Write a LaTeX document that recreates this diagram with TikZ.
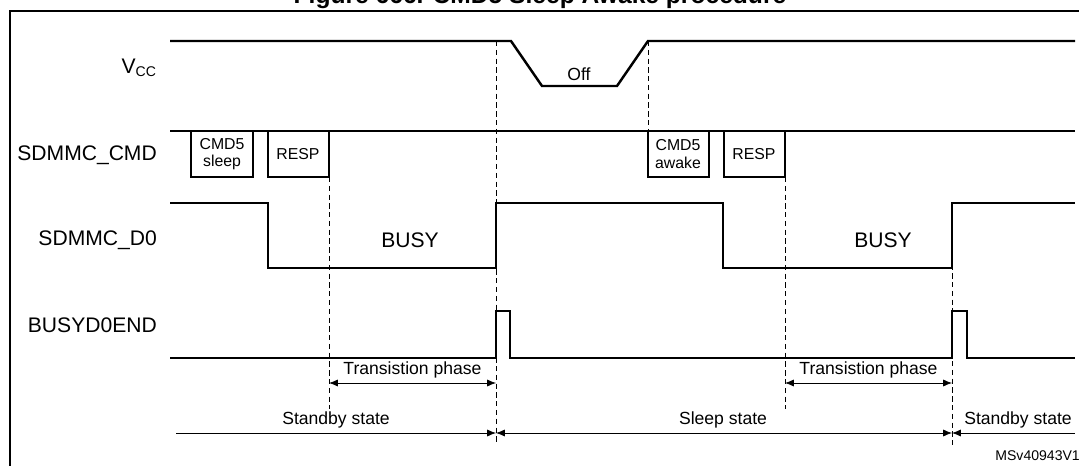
\documentclass[tikz,border=0pt]{standalone}
\usepackage{fontspec}
\setmainfont{Liberation Sans}
\usetikzlibrary{arrows.meta}
\tikzset{
  sig/.style={line width=1.4pt},
  guide/.style={densely dashed,thin},
  span/.style={thin,{Latex[length=5pt,width=4pt]}-{Latex[length=5pt,width=4pt]}},
  lbl/.style={font=\fontsize{12}{14}\selectfont,anchor=east},
  box/.style={font=\fontsize{9}{10}\selectfont,align=center},
  small/.style={font=\fontsize{10}{12}\selectfont}
}
\begin{document}
\begin{tikzpicture}[x=0.02cm,y=-0.02cm]
        \useasboundingbox (0,0) rectangle (1079,466);
        \begin{scope}
        \clip (0,0) rectangle (1079,466);
        \node[font=\fontsize{14}{16}\selectfont\bfseries,anchor=base] (title) at (540,4) {Figure 666. CMD5 Sleep Awake procedure};
        \draw[line width=0.8pt] (10,470) -- (10,11) -- (1090,11);
        \node[anchor=east,font=\fontsize{8}{9}\selectfont] (ref) at (1086,456) {MSv40943V1};
        \end{scope}
        % labels
        \node[lbl] (vcc) at (163,68) {V\textsubscript{CC}};
        \node[lbl] (cmd) at (163,155) {SDMMC\_CMD};
        \node[lbl] (d0) at (163,240) {SDMMC\_D0};
        \node[lbl] (bde) at (163,325) {BUSYD0END};
        % guides
        \draw[guide] (329,177) -- (329,409);
        \draw[guide] (496,41) -- (496,445);
        \draw[guide] (648,41) -- (648,131);
        \draw[guide] (785,177) -- (785,409);
        \draw[guide] (952,203) -- (952,445);
        % Vcc
        \draw[sig] (170,41) -- (511,41) -- (542,86) -- (617,86) -- (648,41) -- (1075,41);
        \node[small] (off) at (579,74) {Off};
        % CMD
        \draw[sig] (170,131) -- (1075,131);
        \draw[sig] (191,131) -- (191,177) -- (253,177) -- (253,131);
        \draw[sig] (268,131) -- (268,177) -- (329,177) -- (329,131);
        \draw[sig] (648,131) -- (648,177) -- (709,177) -- (709,131);
        \draw[sig] (724,131) -- (724,177) -- (785,177) -- (785,131);
        \node[box] (c1) at (222,154) {CMD5\\sleep};
        \node[box] (r1) at (298,154) {RESP};
        \node[box] (c2) at (678,154) {CMD5\\awake};
        \node[box] (r2) at (754,154) {RESP};
        % D0
        \draw[sig] (170,203) -- (268,203) -- (268,268) -- (496,268) -- (496,203) -- (723,203) -- (723,268) -- (952,268) -- (952,203) -- (1075,203);
        \node[font=\fontsize{12}{14}\selectfont] (b1) at (410,240) {BUSY};
        \node[font=\fontsize{12}{14}\selectfont] (b2) at (883,240) {BUSY};
        % BUSYD0END
        \draw[sig] (170,358) -- (496,358) -- (496,311) -- (510,311) -- (510,358) -- (952,358) -- (952,311) -- (967,311) -- (967,358) -- (1075,358);
        % phases
        \coordinate (t1) at (329,383);
        \coordinate (t2) at (496,383);
        \coordinate (t3) at (785,383);
        \coordinate (t4) at (952,383);
        \draw[span] (t1) -- node[small,above=-1pt] {Transistion phase} (t2);
        \draw[span] (t3) -- node[small,above=-1pt] {Transistion phase} (t4);
        \coordinate (a0) at (176,433);
        \coordinate (a1) at (496,433);
        \coordinate (a2) at (952,433);
        \coordinate (a3) at (1075,433);
        \draw[thin,-{Latex[length=5pt,width=4pt]}] (a0) -- (a1);
        \draw[span] (a1) -- (a2);
        \draw[thin,{Latex[length=5pt,width=4pt]}-] (a2) -- (a3);
        \node[small] (st1) at (336,420) {Standby state};
        \node[small] (st2) at (723,420) {Sleep state};
        \node[small] (st3) at (1018,420) {Standby state};
\end{tikzpicture}
\end{document}
